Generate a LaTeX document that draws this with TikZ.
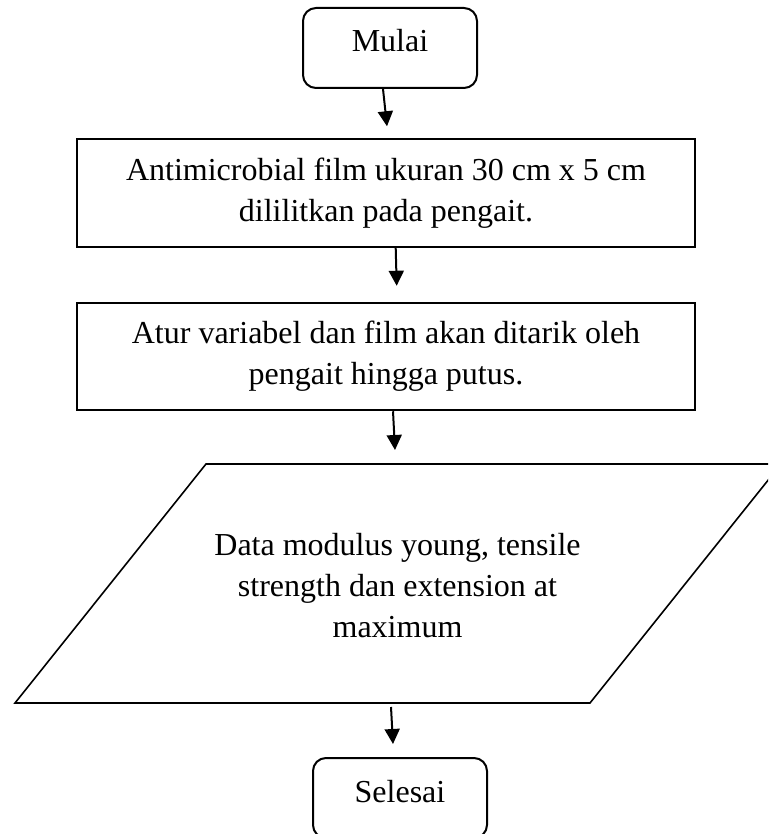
\documentclass[tikz,border=0pt]{standalone}
\usepackage{fontspec}
\setmainfont{Liberation Serif}
\usetikzlibrary{arrows.meta,calc}

\begin{document}
\begin{tikzpicture}[x=1pt,y=-1pt,
  every node/.style={font=\fontsize{32}{41}\selectfont},
  terminal/.style={draw, line width=2pt, rounded corners=13pt,
    minimum width=174pt, minimum height=80pt,
    text height=22pt, text depth=14pt, inner sep=0pt},
  process/.style={draw, line width=2pt, minimum width=618pt,
    minimum height=107.5pt, align=center, inner sep=0pt},
  io/.style={line width=1.6pt, line join=miter},
  flow/.style={line width=2pt, -{Triangle[width=15pt,length=15pt]}}]
\useasboundingbox (0,0) rectangle (768,834);
\clip (0,0) rectangle (768,834);

% start terminal
\node[terminal] (mulai) at (390,48) {Mulai};

% process steps
\node[process] (film) at (386,193)
  {Antimicrobial film ukuran 30 cm x 5 cm\\dililitkan pada pengait.};
\node[process] (atur) at (386,356.5)
  {Atur variabel dan film akan ditarik oleh\\pengait hingga putus.};

% data (input/output) parallelogram
\coordinate (pbl) at (15,703);
\coordinate (ptl) at (206,464);
\coordinate (ptr) at (781,464);
\coordinate (pbr) at (590,703);
\coordinate (ptop) at (394,464);
\coordinate (pbot) at (391,703);
\draw[io] (pbl) -- (ptl) -- (ptr) -- (pbr) -- cycle;
\node[align=center, inner sep=0pt] (data) at (397.5,586)
  {Data modulus young, tensile\\strength dan extension at\\maximum};

% end terminal
\node[terminal] (selesai) at (400,798) {Selesai};

% flow arrows
\draw[flow] ($(mulai.south)+(-7,0)$) -- ($(film.north)+(1,-12)$);
\draw[flow] ($(film.south)+(9.7,0)$) -- ($(atur.north)+(10.7,-16)$);
\draw[flow] ($(atur.south)+(7,0)$) -- ($(ptop)+(1,-14)$);
\draw[flow] ($(pbot)+(0,4)$) -- ($(selesai.north)+(-7,-13)$);
\end{tikzpicture}
\end{document}
